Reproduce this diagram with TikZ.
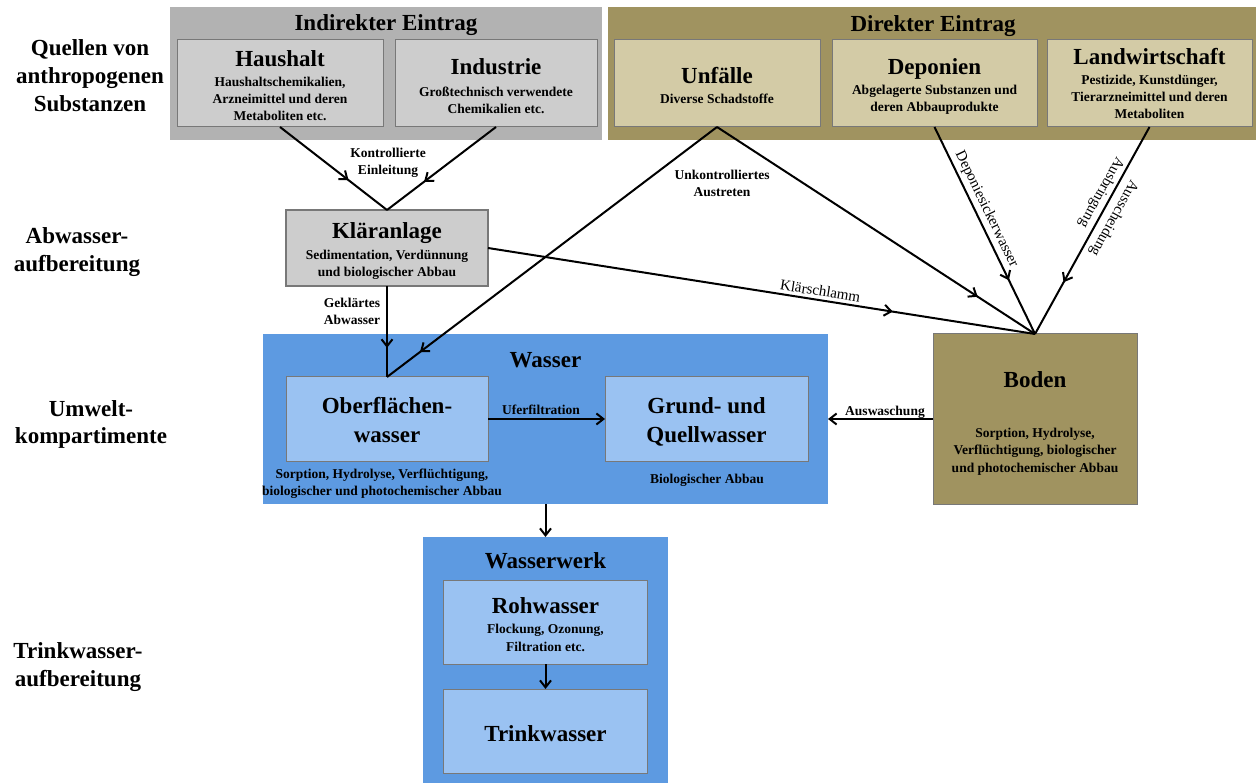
\documentclass[tikz,border=0pt]{standalone}
\usepackage{fontspec}
\setmainfont{Liberation Serif}
\usetikzlibrary{arrows.meta,decorations.markings}

\definecolor{greyouter}{RGB}{178,178,178}
\definecolor{greyinner}{RGB}{205,205,205}
\definecolor{oliveouter}{RGB}{160,147,96}
\definecolor{taninner}{RGB}{211,203,166}
\definecolor{blueouter}{RGB}{93,154,225}
\definecolor{blueinner}{RGB}{154,194,242}
\definecolor{boxframe}{RGB}{120,120,120}

\newcommand\hdfont{\fontsize{23}{28}\selectfont\bfseries}
\newcommand\smfont{\fontsize{13.5}{17}\selectfont\bfseries}
\newcommand\lnfont{\fontsize{15}{18}\selectfont}
\newcommand\txtlines[1]{\begin{tabular}[t]{@{}c@{}}#1\end{tabular}}

\begin{document}
\begin{tikzpicture}[x=1pt,y=-1pt,
  zone/.style={rectangle, inner sep=0pt, outer sep=0pt, draw=none},
  cell/.style={rectangle, inner sep=0pt, outer sep=0pt, draw=boxframe, line width=1pt},
  hd/.style={font=\hdfont, inner sep=0pt, anchor=base},
  sm/.style={font=\smfont, inner sep=0pt, anchor=base},
  side/.style={font=\fontsize{23}{28}\selectfont\bfseries, inner sep=0pt, anchor=base},
  flow/.style={draw=black, line width=2pt},
  endarrow/.style={-{Straight Barb[length=7pt,width=11pt]}},
  midarrow/.style={postaction={decorate}, decoration={markings,
      mark=at position #1 with {\arrow{Straight Barb[length=7pt,width=11pt]}}}},
  slopelbl/.style={font=\lnfont, sloped, inner sep=2pt}
]
\useasboundingbox (0,0) rectangle (1258,783);

% ---- row labels on the left
\node[side] (lq) at (90,56) {\txtlines{Quellen von\\anthropogenen\\Substanzen}};
\node[side] (la) at (77,244) {\txtlines{Abwasser-\\aufbereitung}};
\node[side] (lu) at (91,416) {\txtlines{Umwelt-\\kompartimente}};
\node[side] (lt) at (78,658) {\txtlines{Trinkwasser-\\aufbereitung}};

% ---- sources: indirect input
\node[zone, fill=greyouter, minimum width=432pt, minimum height=133pt] (indirekt) at (386,73.5) {};
\node[hd] at (386,31) {Indirekter Eintrag};
\node[cell, fill=greyinner, minimum width=206pt, minimum height=87pt] (haushalt) at (280,83.5) {};
\node[hd] at (280,67) {Haushalt};
\node[sm] at (280,87) {\txtlines{Haushaltschemikalien,\\Arzneimittel und deren\\Metaboliten etc.}};
\node[cell, fill=greyinner, minimum width=202pt, minimum height=87pt] (industrie) at (496,83.5) {};
\node[hd] at (496,75) {Industrie};
\node[sm] at (496,97) {\txtlines{Großtechnisch verwendete\\Chemikalien etc.}};

% ---- sources: direct input
\node[zone, fill=oliveouter, minimum width=648pt, minimum height=133pt] (direkt) at (932,73.5) {};
\node[hd] at (933,32) {Direkter Eintrag};
\node[cell, fill=taninner, minimum width=206pt, minimum height=87pt] (unfaelle) at (717,83.5) {};
\node[hd] at (717,84) {Unfälle};
\node[sm] at (717,104) {Diverse Schadstoffe};
\node[cell, fill=taninner, minimum width=205pt, minimum height=87pt] (deponien) at (934.5,83.5) {};
\node[hd] at (934.5,75) {Deponien};
\node[sm] at (934.5,95) {\txtlines{Abgelagerte Substanzen und\\deren Abbauprodukte}};
\node[cell, fill=taninner, minimum width=205pt, minimum height=87pt] (landwirt) at (1149.5,83.5) {};
\node[hd] at (1149.5,65) {Landwirtschaft};
\node[sm] at (1149.5,85) {\txtlines{Pestizide, Kunstdünger,\\Tierarzneimittel und deren\\Metaboliten}};

% ---- sewage treatment
\node[cell, fill=greyinner, line width=1.3pt, minimum width=202pt, minimum height=76pt] (klaer) at (387,248) {};
\node[hd] at (387,239) {Kläranlage};
\node[sm] at (387,260) {\txtlines{Sedimentation, Verdünnung\\und biologischer Abbau}};

% ---- water compartment
\node[zone, fill=blueouter, minimum width=565pt, minimum height=170pt] (wasser) at (545.5,419) {};
\node[hd] at (545.5,367) {Wasser};
\node[cell, fill=blueinner, minimum width=202pt, minimum height=84pt] (oberfl) at (387,419) {};
\node[hd, font=\fontsize{23}{29}\selectfont\bfseries] at (387,413) {\txtlines{Oberflächen-\\wasser}};
\node[cell, fill=blueinner, minimum width=203pt, minimum height=84pt] (grund) at (706.5,419) {};
\node[hd, font=\fontsize{23}{29}\selectfont\bfseries] at (706.5,413) {\txtlines{Grund- und\\Quellwasser}};
\node[sm] at (382,478) {\txtlines{Sorption, Hydrolyse, Verflüchtigung,\\biologischer und photochemischer Abbau}};
\node[sm] at (707,483) {Biologischer Abbau};

% ---- soil compartment
\node[cell, fill=oliveouter, minimum width=204pt, minimum height=170pt] (boden) at (1035,419) {};
\node[hd] at (1035,388) {Boden};
\node[sm, font=\fontsize{13.5}{17.5}\selectfont\bfseries] at (1035,437) {\txtlines{Sorption, Hydrolyse,\\Verflüchtigung, biologischer\\und photochemischer Abbau}};

% ---- waterworks
\node[zone, fill=blueouter, minimum width=245pt, minimum height=246pt] (werk) at (545.5,660) {};
\node[hd] at (545.5,568) {Wasserwerk};
\node[cell, fill=blueinner, minimum width=204pt, minimum height=84pt] (roh) at (545.5,622) {};
\node[hd] at (545.5,613) {Rohwasser};
\node[sm, font=\fontsize{13.5}{18.5}\selectfont\bfseries] at (545.5,633) {\txtlines{Flockung, Ozonung,\\Filtration etc.}};
\node[cell, fill=blueinner, minimum width=204pt, minimum height=84pt] (trink) at (545.5,731) {};
\node[hd] at (545.5,741) {Trinkwasser};

% ---- connectors
\draw[flow, midarrow=0.64] (haushalt.south) -- (klaer.north);
\draw[flow, midarrow=0.66] (industrie.south) -- (klaer.north);
\node[sm] at (388,158) {\txtlines{Kontrollierte\\Einleitung}};

\draw[flow, midarrow=0.68] (klaer.south) -- (oberfl.north);
\node[sm] at (352,308) {\txtlines{Geklärtes\\Abwasser}};

\draw[flow, midarrow=0.9] (unfaelle.south) -- (oberfl.north);
\draw[flow, midarrow=0.82] (unfaelle.south) -- (boden.north);
\node[sm] at (722,180) {\txtlines{Unkontrolliertes\\Austreten}};

\draw[flow, midarrow=0.74] (klaer.east) -- node[slopelbl, pos=0.605, above=1pt] {Klärschlamm} (boden.north);
\draw[flow, midarrow=0.74] (deponien.south) -- node[slopelbl, pos=0.42, above=1pt] {Deponiesickerwasser} (boden.north);
\draw[flow, midarrow=0.75] (landwirt.south)
  -- node[slopelbl, allow upside down, pos=0.34, below=1pt] {Ausbringung}
     node[slopelbl, allow upside down, pos=0.41, above=3pt] {Ausscheidung} (boden.north);

\draw[flow, endarrow] (oberfl.east) -- (grund.west);
\node[sm] at (541,414) {Uferfiltration};
\draw[flow, endarrow] (boden.west) -- (wasser.east);
\node[sm] at (885,415) {Auswaschung};
\draw[flow, endarrow] (wasser.south) -- (werk.north);
\draw[flow, endarrow] (roh.south) -- (trink.north);
\end{tikzpicture}
\end{document}
